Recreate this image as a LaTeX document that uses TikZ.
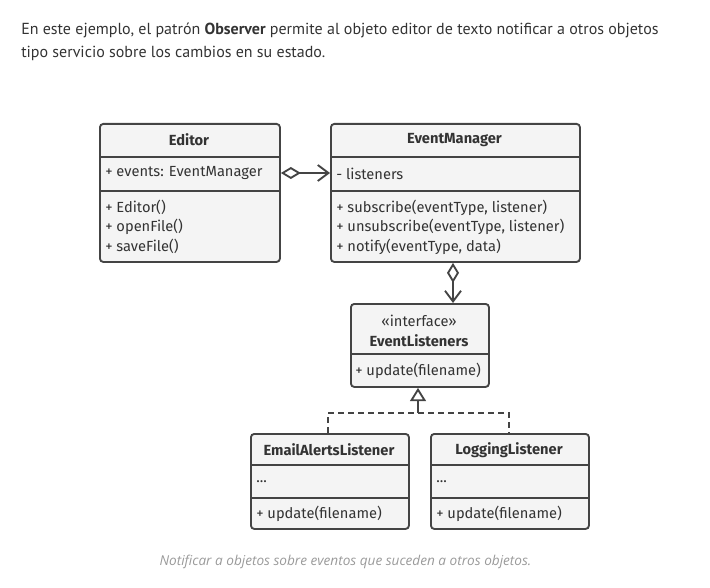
\documentclass[tikz,border=0pt]{standalone}
\usepackage{fontspec}
\setmainfont{Fira Sans}
\newfontfamily\headfont{PT Sans}
\newfontfamily\capfont{Open Sans}
\usetikzlibrary{arrows.meta}
\definecolor{ink}{HTML}{444444}
\definecolor{txt}{HTML}{333333}
\definecolor{boxfill}{HTML}{F4F4F4}
\definecolor{captxt}{HTML}{9A9A9A}
\tikzset{
  umlbox/.style={draw=ink, fill=boxfill, line width=1.4pt, rounded corners=2.5pt, anchor=north west, inner sep=0pt},
  divider/.style={draw=ink, line width=1.4pt},
  lbl/.style={anchor=west, inner sep=0pt, text=txt, font=\fontsize{11}{13}\selectfont},
  ttl/.style={anchor=center, inner sep=0pt, text=txt, font=\fontsize{11}{13}\selectfont\bfseries},
  conn/.style={draw=ink, line width=1.4pt},
}
\begin{document}
\begin{tikzpicture}[x=0.75pt,y=-0.75pt]
\useasboundingbox (0,0) rectangle (710,588);
% header text
\node[anchor=base west, inner sep=0pt, text=txt, font=\headfont\fontsize{12}{14}\selectfont] (head1) at (21,35) {En este ejemplo, el patrón \textbf{Observer} permite al objeto editor de texto notificar a otros objetos};
\node[anchor=base west, inner sep=0pt, text=txt, font=\headfont\fontsize{12}{14}\selectfont] (head2) at (21,58) {tipo servicio sobre los cambios en su estado.};
% Editor
\node[umlbox, minimum width=135pt, minimum height=103.5pt] (editor) at (99,123) {};
\draw[divider] (99,157) -- (279,157);
\draw[divider] (99,191) -- (279,191);
\node[ttl] (edT) at (189,140) {Editor};
\node[lbl] (edA) at (105,173.5) {+ events: EventManager};
\node[lbl] (edM1) at (105,207.5) {+ Editor()};
\node[lbl] (edM2) at (105,227) {+ openFile()};
\node[lbl] (edM3) at (105,246.5) {+ saveFile()};
% EventManager
\node[umlbox, minimum width=186.75pt, minimum height=103.5pt] (em) at (330,123) {};
\draw[divider] (330,157) -- (579,157);
\draw[divider] (330,191) -- (579,191);
\node[ttl] (emT) at (454.5,140) {EventManager};
\node[lbl] (emA) at (336,173.5) {- listeners};
\node[lbl] (emM1) at (336,207.5) {+ subscribe(eventType, listener)};
\node[lbl] (emM2) at (336,227) {+ unsubscribe(eventType, listener)};
\node[lbl] (emM3) at (336,246.5) {+ notify(eventType, data)};
% EventListeners
\node[umlbox, minimum width=103.5pt, minimum height=62.25pt] (el) at (350,303) {};
\draw[divider] (350,354) -- (488,354);
\node[anchor=center, inner sep=0pt, text=txt, font=\fontsize{11}{13}\selectfont] (elS) at (419,320.5) {«interface»};
\node[ttl] (elT) at (419,340.5) {EventListeners};
\node[lbl] (elM) at (355,370.5) {+ update(filename)};
% EmailAlertsListener
\node[umlbox, minimum width=118.5pt, minimum height=71.25pt] (mail) at (250,433) {};
\draw[divider] (250,465) -- (408,465);
\draw[divider] (250,498) -- (408,498);
\node[ttl] (mailT) at (329,450) {EmailAlertsListener};
\node[lbl] (mailA) at (256,481.5) {...};
\node[lbl] (mailM) at (256,513.5) {+ update(filename)};
% LoggingListener
\node[umlbox, minimum width=118.5pt, minimum height=71.25pt] (log) at (430,433) {};
\draw[divider] (430,465) -- (588,465);
\draw[divider] (430,498) -- (588,498);
\node[ttl] (logT) at (509,450) {LoggingListener};
\node[lbl] (logA) at (436,481.5) {...};
\node[lbl] (logM) at (436,513.5) {+ update(filename)};
% connectors
\coordinate (aggA) at (editor.east |- 0,173);
\coordinate (aggB) at (em.west |- 0,173);
\draw[conn, {Diamond[open,length=15pt,width=9pt,line width=1.4pt]}-{Straight Barb[length=8pt,width=12pt,line width=1.4pt]}] (aggA) -- (aggB);
\coordinate (aggC) at (em.south -| 453,0);
\coordinate (aggD) at (el.north -| 453,0);
\draw[conn, {Diamond[open,length=15pt,width=9pt,line width=1.4pt]}-{Straight Barb[length=8pt,width=12pt,line width=1.4pt]}] (aggC) -- (aggD);
\coordinate (tri) at (el.south -| 418,0);
\coordinate (junc) at (418,413);
\draw[conn, dash pattern=on 4.5pt off 3pt] (mail.north -| 328,0) -- (328,413) -- (509,413) -- (log.north -| 509,0);
\draw[conn, -{Triangle[open,length=10pt,width=12pt,line width=1.4pt]}] (junc) -- (tri);
% caption
\node[anchor=base, inner sep=0pt, text=captxt, font=\capfont\itshape\fontsize{10.2}{12}\selectfont] (cap) at (345.5,565) {Notificar a objetos sobre eventos que suceden a otros objetos.};
\end{tikzpicture}
\end{document}
